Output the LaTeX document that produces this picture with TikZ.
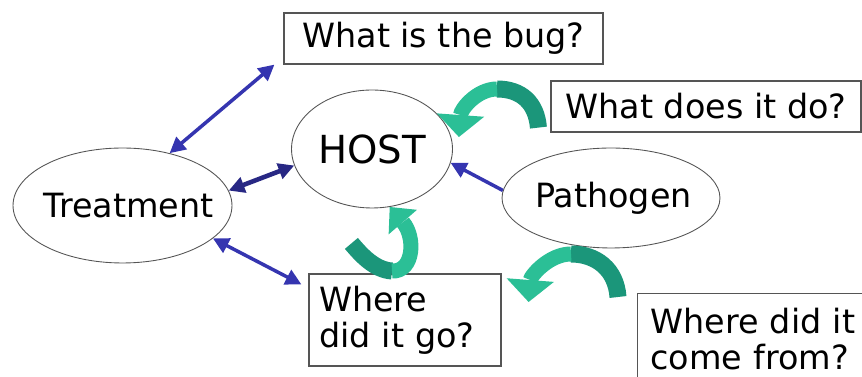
\documentclass[tikz,border=0pt]{standalone}
\usepackage{fontspec}
\setmainfont{DejaVu Sans}
\usetikzlibrary{arrows.meta,shapes.geometric}
\definecolor{Link}{HTML}{3535B0}
\definecolor{Teal}{HTML}{2BBF96}
\definecolor{DeepTeal}{HTML}{1B967A}
\definecolor{Edge}{HTML}{555555}

\begin{document}
\begin{tikzpicture}[x=0.02cm,y=-0.02cm,font=\fontsize{19}{20.5}\selectfont,
    oval/.style={draw=Edge,ellipse,inner xsep=-0.6cm,inner ysep=0pt,line width=0.5pt},
    qbox/.style={draw=Edge,line width=0.7pt,inner sep=0pt},
    link/.style={draw=Link,line width=2pt,{Triangle[width=9pt,length=9pt]}-{Triangle[width=9pt,length=9pt]}},
    swoop/.style={line width=0.34cm},
    swoophead/.style={line width=0.3cm,-{Triangle[width=0.95cm,length=0.44cm,line width=0pt]}}]
  \useasboundingbox (0,0) rectangle (862,377);
  \clip (0,0) rectangle (862,377);
  % the three players
  \node[oval,minimum width=4.38cm,minimum height=2.3cm] (treat) at (122.5,205.5) {\hspace{0.25cm}Treatment};
  \node[oval,minimum width=3.22cm,minimum height=2.36cm,font=\fontsize{22}{24}\selectfont] (host) at (372,149) {HOST};
  \node[oval,minimum width=4.36cm,minimum height=2cm] (pathogen) at (611,198) {\hspace{0.1cm}Pathogen};
  % questions
  \node[qbox,minimum width=6.38cm,minimum height=1.02cm] (bug) at (443.5,38.5) {What is the bug?};
  \node[qbox,minimum width=6.2cm,minimum height=1.02cm] (doit) at (706,106.5) {What does it do?};
  \node[qbox,minimum width=3.84cm,minimum height=1.84cm,text width=3.44cm,align=left] (went) at (405,320) {Where\\did it go?};
  \node[qbox,anchor=north west,minimum width=4.62cm,minimum height=1.8cm,text width=4.1cm,align=left] (came) at (637,293) {Where did it\\come from?};
  % blue links
  \draw[link] (treat.48) -- ([xshift=-0.18cm]bug.south west);
  \draw[link,line width=2.6pt,draw=Link!75!black] (treat.8) -- (host.192);
  \draw[link,-{Triangle[width=9pt,length=9pt]}] (pathogen.176) -- (host.-10);
  \draw[link] (treat.-20) -- ([shift={(-7,11)}]went.north west);
  % green swoops
  \coordinate (crestA) at (497,89);
  \coordinate (crestB) at (392,271);
  \coordinate (crestC) at (571,254);
  \draw[swoop,DeepTeal] ([shift={(-12,-5)}]doit.south west) .. controls +(-2,-25) and +(24,0) .. (crestA);
  \draw[swoophead,Teal] (crestA) .. controls +(-20,0) and +(2,-28) .. ([shift={(6,-12)}]host.east);
  \draw[swoop,DeepTeal] ([shift={(43,-30)}]went.north west) .. controls +(10,12) and +(-17,-1) .. (crestB);
  \draw[swoophead,Teal,-{Triangle[width=0.75cm,length=0.4cm,line width=0pt]}] (crestB) .. controls +(22,1) and +(26,30) .. (host.-73);
  \draw[swoop,DeepTeal] ([shift={(-19,4)}]came.north west) .. controls +(-2,-28) and +(25,0) .. (crestC);
  \draw[swoophead,Teal] (crestC) .. controls +(-22,0) and +(2,-26) .. ([shift={(27,-18)}]went.east);
\end{tikzpicture}
\end{document}
